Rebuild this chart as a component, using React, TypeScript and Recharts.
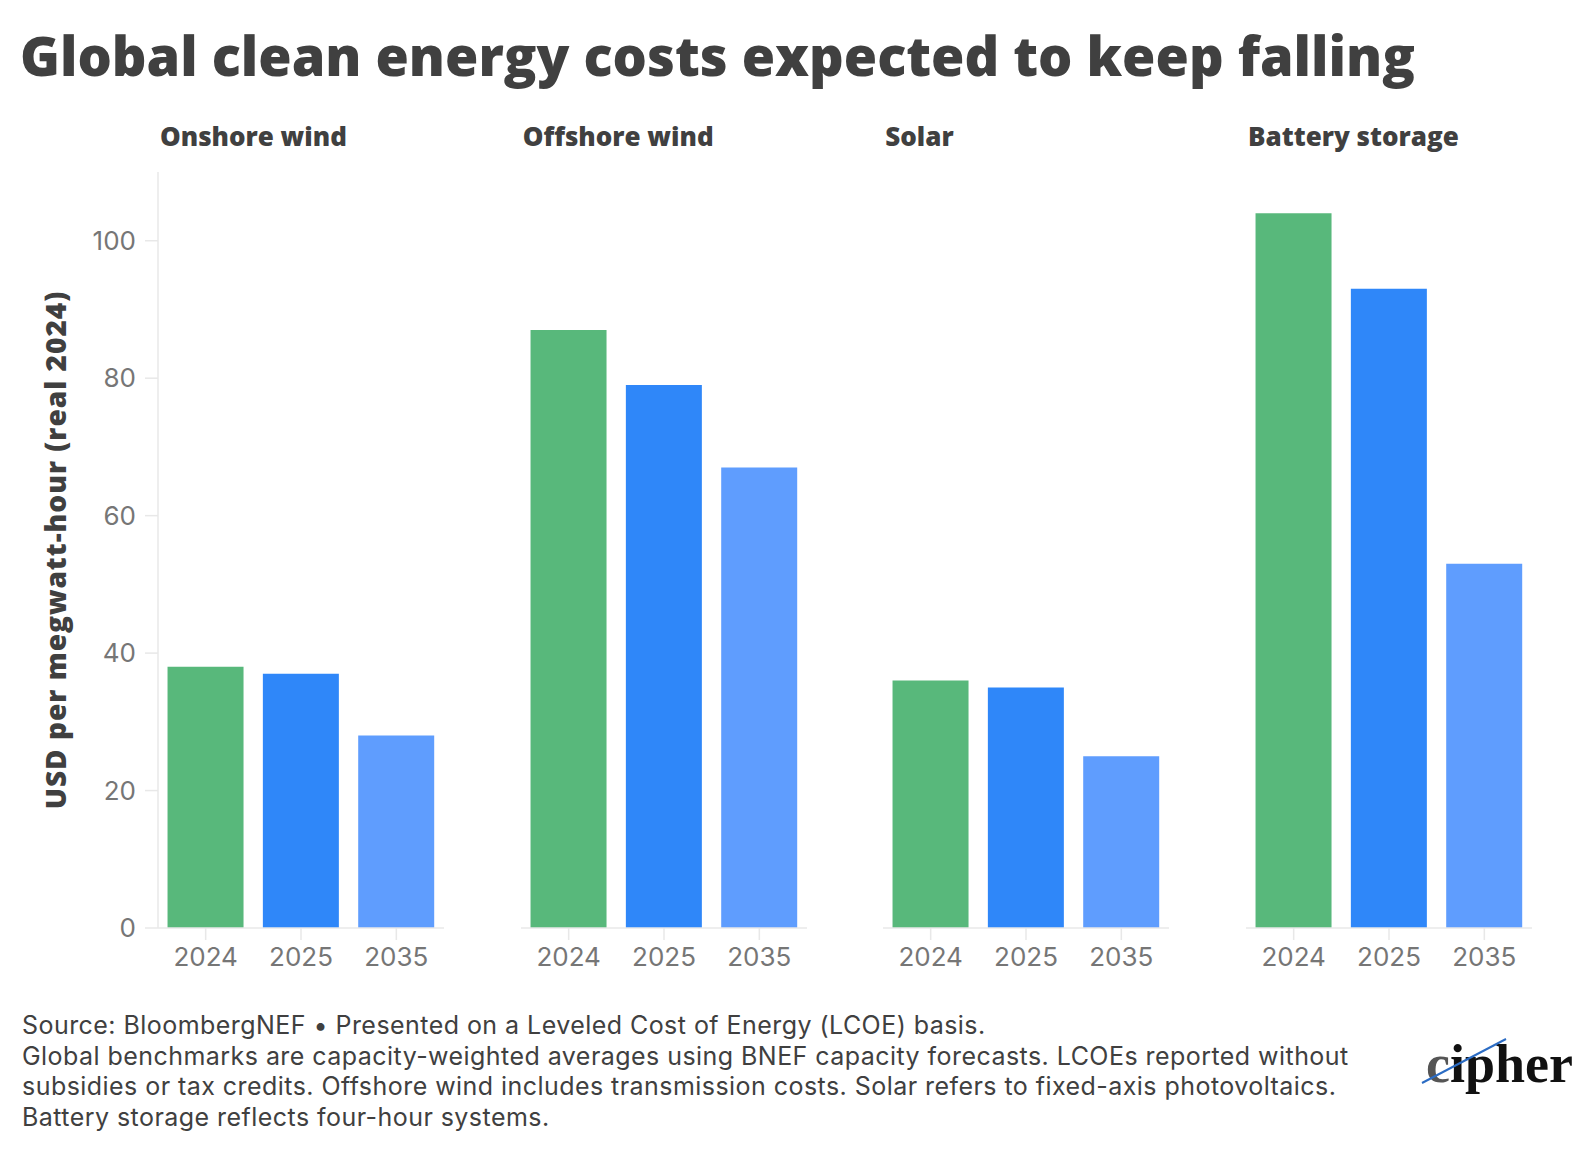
import React from 'react'
import { BarChart, Bar, Cell, XAxis, YAxis } from 'recharts'

const years = ['2024', '2025', '2035']
const panelTitles = ['Onshore wind', 'Offshore wind', 'Solar', 'Battery storage']
const onshoreWind = [38, 37, 28]
const offshoreWind = [87, 79, 67]
const solar = [36, 35, 25]
const batteryStorage = [104, 93, 53]
const yTicks = [0, 20, 40, 60, 80, 100]
const barColors = ['#58b87b', '#2f87f9', '#5f9dfe']

const seriesList = [onshoreWind, offshoreWind, solar, batteryStorage]

const HEAVY = '"Open Sans", "Noto Sans", sans-serif'
const BODY = 'Inter, Roboto, sans-serif'
const TICK = 'Inter, Roboto, sans-serif'

const PLOT_TOP = 172
const PLOT_H = 756
const XAXIS_H = 60
const PLOT_W = 286
const AXIS_W = 158
const panelLeft = [158, 520.7, 883.3, 1246]

const tickStyle = { fontFamily: TICK, fontSize: 26, fill: '#767676' }

const YLabel = (props: any) => {
  const vb = props.viewBox || { x: 0, y: 0, width: 0, height: 0 }
  const cx = 55
  const cy = vb.y + vb.height / 2
  return (
    <text
      x={cx}
      y={cy}
      transform={`rotate(-90 ${cx} ${cy})`}
      textAnchor="middle"
      dominantBaseline="central"
      style={{ fontFamily: HEAVY, fontWeight: 800, fontSize: 28, letterSpacing: 1, fill: '#404040' }}
    >
      USD per megwatt-hour (real 2024)
    </text>
  )
}

const Panel = ({ index }: { index: number }) => {
  const values = seriesList[index]
  const data = years.map((y, i) => ({ year: y, value: values[i] }))
  const first = index === 0
  const width = first ? AXIS_W + PLOT_W : PLOT_W
  const left = first ? 0 : panelLeft[index]
  return (
    <div style={{ position: 'absolute', left, top: PLOT_TOP }}>
      <BarChart
        width={width}
        height={PLOT_H + XAXIS_H}
        data={data}
        margin={{ top: 0, right: 0, bottom: 0, left: 0 }}
        barCategoryGap="10%"
      >
        <XAxis
          dataKey="year"
          height={XAXIS_H}
          tickSize={12}
          tickMargin={8}
          axisLine={{ stroke: '#e8e8e8', strokeWidth: 1.5 }}
          tickLine={{ stroke: '#e8e8e8', strokeWidth: 1.5 }}
          tick={tickStyle}
          interval={0}
        />
        <YAxis
          hide={!first}
          width={AXIS_W}
          domain={[0, 110]}
          ticks={yTicks}
          tickSize={13}
          tickMargin={9}
          axisLine={{ stroke: '#e8e8e8', strokeWidth: 1.5 }}
          tickLine={{ stroke: '#e8e8e8', strokeWidth: 1.5 }}
          tick={tickStyle}
          label={first ? { content: YLabel } : undefined}
        />
        <Bar dataKey="value" isAnimationActive={false}>
          {data.map((d, i) => (
            <Cell key={d.year} fill={barColors[i]} />
          ))}
        </Bar>
      </BarChart>
    </div>
  )
}

const footerLines = [
  'Source: BloombergNEF \u2022 Presented on a Leveled Cost of Energy (LCOE) basis.',
  'Global benchmarks are capacity-weighted averages using BNEF capacity forecasts. LCOEs reported without',
  'subsidies or tax credits. Offshore wind includes transmission costs. Solar refers to fixed-axis photovoltaics.',
  'Battery storage reflects four-hour systems.',
]

export default function App() {
  return (
    <div
      style={{
        position: 'absolute',
        left: 0,
        top: 0,
        width: 1588,
        height: 1150,
        background: '#fff',
        overflow: 'hidden',
      }}
    >
      <div
        style={{
          position: 'absolute',
          left: 20,
          top: 18,
          fontFamily: HEAVY,
          fontWeight: 800,
          fontSize: 54,
          color: '#404040',
          whiteSpace: 'nowrap',
          lineHeight: '74px',
        }}
      >
        Global clean energy costs expected to keep falling
      </div>
      {panelTitles.map((t, i) => (
        <div
          key={t}
          style={{
            position: 'absolute',
            left: panelLeft[i] + 2,
            top: 118,
            fontFamily: HEAVY,
            fontWeight: 800,
            fontSize: 26,
            color: '#404040',
            whiteSpace: 'nowrap',
            lineHeight: '36px',
          }}
        >
          {t}
        </div>
      ))}
      {seriesList.map((_, i) => (
        <Panel key={i} index={i} />
      ))}
      <div
        style={{
          position: 'absolute',
          left: 22,
          top: 1010,
          fontFamily: BODY,
          fontSize: 25,
          letterSpacing: 0.45,
          color: '#404040',
          lineHeight: '30.5px',
          whiteSpace: 'nowrap',
        }}
      >
        {footerLines.map((l) => (
          <div key={l}>{l}</div>
        ))}
      </div>
      <svg style={{ position: 'absolute', left: 1400, top: 1020 }} width={188} height={90}>
        <text
          x={26}
          y={62}
          style={{ fontFamily: '"Liberation Serif", "DejaVu Serif", serif', fontWeight: 700, fontSize: 54 }}
          fill="#111"
        >
          <tspan fill="#555">c</tspan>ipher
        </text>
        <line x1={22} y1={63} x2={106} y2={19} stroke="#2b6cc4" strokeWidth={2} />
      </svg>
    </div>
  )
}
